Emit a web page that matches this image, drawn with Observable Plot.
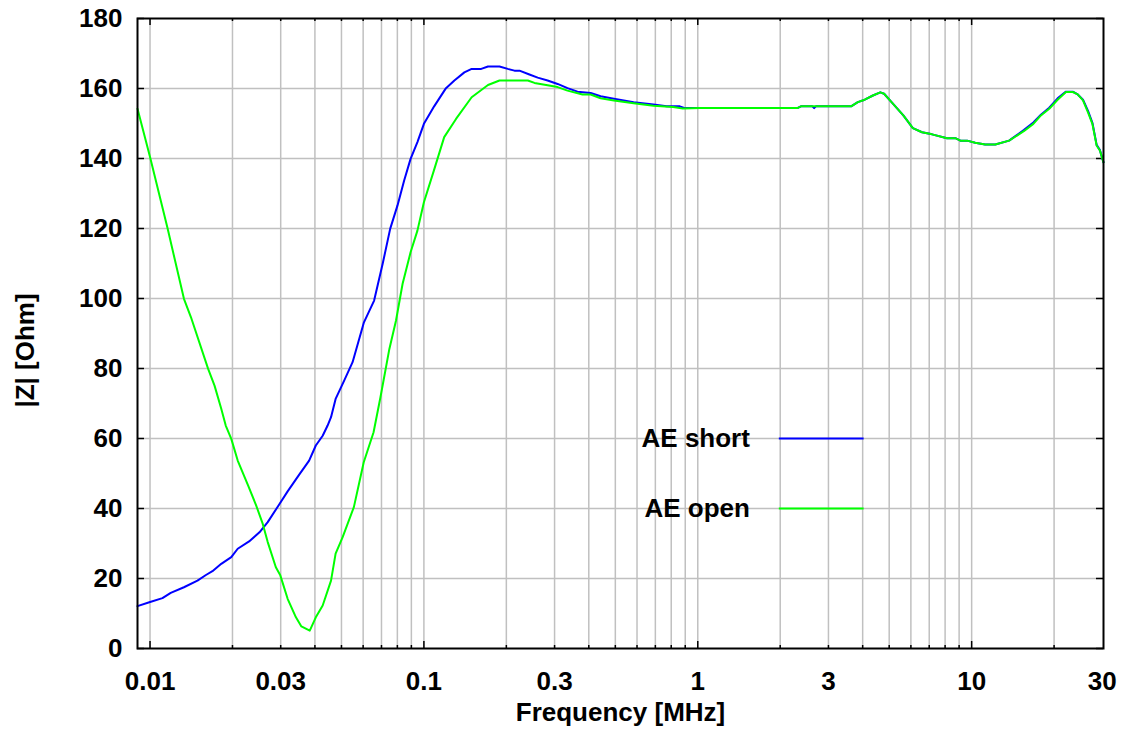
<!DOCTYPE html>
<html><head><meta charset="utf-8">
<script src="https://cdn.jsdelivr.net/npm/d3@7"></script>
<script src="https://cdn.jsdelivr.net/npm/@observablehq/plot@0.6"></script>
<style>body{margin:0;background:#fff}</style>
</head><body><div id="chart"></div>
<script>
// ---- data (frequency in MHz, |Z| in Ohm) ----
const shortFreq = [0.009,0.00994,0.0111,0.0119,0.0133,0.0149,0.0160,0.0169,0.0182,0.0198,0.0209,0.0230,0.0251,0.0269,0.0297,0.0318,0.0350,0.0381,0.0403,0.0427,0.0445,0.0458,0.0476,0.0512,0.0549,0.0604,0.0658,0.0707,0.0753,0.0801,0.0847,0.0894,0.0947,0.1000,0.109,0.1204,0.1292,0.1405,0.1494,0.1619,0.1714,0.1888,0.2024,0.2141,0.2233,0.2428,0.2603,0.2829,0.3077,0.3345,0.3638,0.4063,0.4418,0.4938,0.5832,0.6888,0.7698,0.860,0.897,1.02,2.31,2.38,2.62,2.66,2.70,3.63,3.84,4.07,4.36,4.64,4.79,5.10,5.63,6.10,6.59,7.17,8.13,8.72,9.10,9.63,10.3,11.2,12.2,13.7,15.5,16.8,17.9,19.2,20.6,22.1,23.4,24.4,25.5,26.6,27.6,28.6,29.4,30.3];
const shortZ = [12.1,13.2,14.4,15.9,17.5,19.4,21.0,22.1,24.2,26.1,28.5,30.6,33.2,36.1,41.3,44.9,49.6,53.7,58.0,60.8,63.7,66.1,71.3,76.6,81.8,93.2,99.4,109.9,119.9,126.6,133.7,139.9,144.7,149.9,154.9,160.1,162.3,164.6,165.6,165.6,166.3,166.3,165.6,165.1,165.1,164.0,163.1,162.3,161.3,160.1,159.1,158.7,157.8,157.1,156.1,155.4,154.9,154.9,154.4,154.4,154.4,154.9,154.9,154.4,154.9,154.9,156.1,156.8,158.0,158.9,158.5,156.1,152.3,148.7,147.5,146.9,145.8,145.8,145.1,145.1,144.5,144.0,144.0,145.1,148.1,150.3,152.5,154.5,157.2,159.1,159.1,158.3,156.8,153.6,150.2,143.9,142.4,138.9];

const openFreq = [0.009,0.01,0.0116,0.0133,0.0141,0.0163,0.0172,0.0182,0.0189,0.0198,0.0209,0.0228,0.0244,0.0258,0.0269,0.0288,0.0299,0.0318,0.0341,0.0357,0.0383,0.0403,0.0427,0.0458,0.0476,0.0505,0.0555,0.0603,0.0655,0.0694,0.0748,0.0791,0.0836,0.0894,0.0947,0.1000,0.1088,0.1186,0.131,0.1494,0.1714,0.1888,0.2396,0.2534,0.2829,0.3077,0.3345,0.3794,0.4063,0.4418,0.4938,0.5832,0.6888,0.8129,0.8815,1.02,2.31,2.38,3.63,3.84,4.07,4.36,4.64,4.79,5.10,5.63,6.10,6.59,7.17,8.13,8.72,9.10,9.63,10.3,11.2,12.2,13.7,15.5,16.8,17.9,19.2,20.6,22.1,23.4,24.4,25.5,26.6,27.6,28.6,29.4,30.3];
const openZ = [154.2,140.4,119.9,99.9,94.7,79.9,75.1,68.5,63.7,59.9,53.7,46.6,40.9,35.6,30.4,23.2,20.9,14.2,8.9,6.3,5.1,8.9,12.3,19.4,27.1,31.8,40.4,53.2,61.8,71.8,85.6,93.7,104.2,113.2,119.4,127.5,136.6,146.1,151.3,157.5,161.0,162.3,162.3,161.6,160.9,160.4,159.4,158.3,158.3,157.2,156.6,155.8,155.1,154.7,154.3,154.4,154.4,154.9,154.9,156.1,156.8,158.0,158.9,158.5,156.1,152.3,148.7,147.5,146.9,145.8,145.8,145.1,145.1,144.5,144.0,144.0,145.1,147.8,149.9,152.3,154.2,156.8,159.0,159.0,158.3,156.6,153.2,149.9,143.7,142.3,138.9];

const xLabelTicks = [0.01,0.03,0.1,0.3,1,3,10,30];
const xMajorTicks = [0.01,0.1,1,10];
const xMinorTicks = [0.02,0.03,0.04,0.05,0.06,0.07,0.08,0.09,0.2,0.3,0.4,0.5,0.6,0.7,0.8,0.9,2,3,4,5,6,7,8,9,20];
const yTicks = [0,20,40,60,80,100,120,140,160,180];
const legendNames = ["AE short","AE open"];
const legendZ = [60,40];

// ---- layout / style constants ----
const W = 1128, H = 731, mL = 137, mR = 25, mT = 18, mB = 83;
const xDomain = [0.009, 30.3], yDomain = [0, 180];
const FONT = "'Liberation Sans', Arial, Helvetica, sans-serif";
const GRID = "#c0c0c0";
const pxPerDecade = (W - mL - mR) / Math.log10(xDomain[1] / xDomain[0]);
const yPerPx = (yDomain[1] - yDomain[0]) / (H - mT - mB);
const majorLen = 7, minorLen = 3;
const xFactor = Math.pow(10, majorLen / pxPerDecade);
const legendTextAt = 1.55, legendLineFrom = 1.985, legendLineTo = 4.05;

const shortData = shortFreq.map((f, i) => ({f, z: shortZ[i]}));
const openData = openFreq.map((f, i) => ({f, z: openZ[i]}));
const gridXVals = [...xMajorTicks, ...xMinorTicks].sort((a,b)=>a-b);
const gridYVals = yTicks.filter(v => v > yDomain[0] && v < yDomain[1]);
const legendRows = legendNames.map((n, i) => ({name: n, z: legendZ[i]}));

const chart = Plot.plot({
  width: W, height: H,
  marginLeft: mL, marginRight: mR, marginTop: mT, marginBottom: mB,
  x: {type: "log", domain: xDomain, axis: null},
  y: {domain: yDomain, axis: null},
  style: {fontFamily: FONT, fontSize: "26px", fontWeight: "bold", color: "black", background: "white"},
  marks: [
    Plot.gridX(gridXVals, {stroke: GRID, strokeOpacity: 1, strokeWidth: 1.5}),
    Plot.gridY(gridYVals, {stroke: GRID, strokeOpacity: 1, strokeWidth: 1.5}),
    // inward ticks
    Plot.ruleX(xMajorTicks, {y1: yDomain[0], y2: yDomain[0] + majorLen * yPerPx, stroke: "black", strokeWidth: 1.5}),
    Plot.ruleX(xMajorTicks, {y1: yDomain[1], y2: yDomain[1] - majorLen * yPerPx, stroke: "black", strokeWidth: 1.5}),
    Plot.ruleX(xMinorTicks, {y1: yDomain[0], y2: yDomain[0] + minorLen * yPerPx, stroke: "black", strokeWidth: 1.5}),
    Plot.ruleX(xMinorTicks, {y1: yDomain[1], y2: yDomain[1] - minorLen * yPerPx, stroke: "black", strokeWidth: 1.5}),
    Plot.ruleY(yTicks, {x1: xDomain[0], x2: xDomain[0] * xFactor, stroke: "black", strokeWidth: 1.5}),
    Plot.ruleY(yTicks, {x1: xDomain[1], x2: xDomain[1] / xFactor, stroke: "black", strokeWidth: 1.5}),
    // curves
    Plot.line(shortData, {x: "f", y: "z", stroke: "#0000ff", strokeWidth: 2}),
    Plot.line(openData, {x: "f", y: "z", stroke: "#00ff00", strokeWidth: 2}),
    // legend
    Plot.text(legendRows, {x: () => legendTextAt, y: "z", text: "name", textAnchor: "end", lineAnchor: "middle", fill: "black"}),
    Plot.ruleY([legendRows[0]], {y: "z", x1: legendLineFrom, x2: legendLineTo, stroke: "#0000ff", strokeWidth: 2}),
    Plot.ruleY([legendRows[1]], {y: "z", x1: legendLineFrom, x2: legendLineTo, stroke: "#00ff00", strokeWidth: 2}),
    Plot.frame({stroke: "black", strokeWidth: 2}),
    // axes labels
    Plot.axisX(xLabelTicks, {tickSize: 0, tickPadding: 23, tickFormat: d => String(d), label: null, fill: "black"}),
    Plot.axisY(yTicks, {tickSize: 0, tickPadding: 15, tickFormat: d => String(d), label: null, fill: "black"}),
    Plot.text(["Frequency [MHz]"], {frameAnchor: "bottom", lineAnchor: "middle", textAnchor: "middle", dy: 64, fill: "black"}),
    Plot.text(["|Z| [Ohm]"], {frameAnchor: "left", lineAnchor: "middle", textAnchor: "middle", rotate: -90, dx: -112, dy: 17, fill: "black"})
  ]
});
document.getElementById("chart").appendChild(chart);
</script></body></html>
